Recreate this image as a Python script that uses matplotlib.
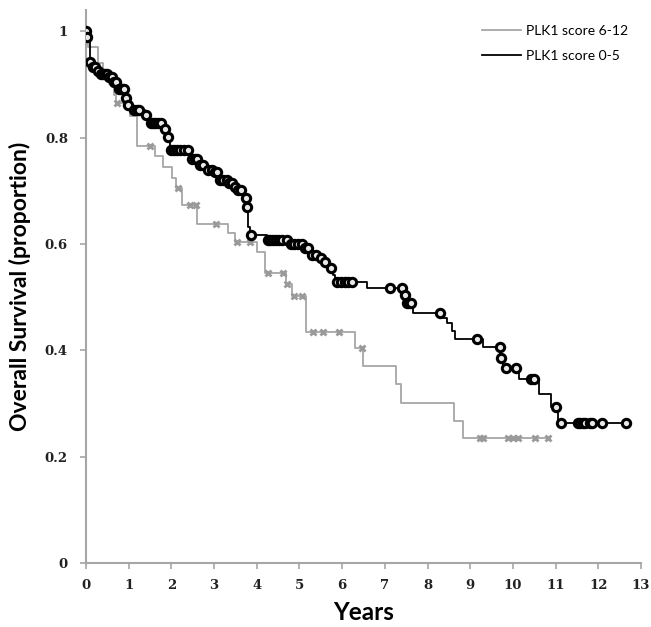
import numpy as np
import matplotlib.pyplot as plt

# PLK1 score 6-12 (grey): step times and survival after each step
hi_t = [0.0, 0.05, 0.28, 0.40, 0.55, 0.65, 0.70, 1.03, 1.19, 1.62, 1.80, 2.01, 2.10, 2.24, 2.60, 3.33, 3.49, 4.01, 4.19, 4.68, 4.83, 5.15, 6.30, 6.48, 7.26, 7.37, 8.62, 8.83]
hi_s = [1.0, 0.97, 0.94, 0.92, 0.90, 0.88, 0.865, 0.84, 0.785, 0.765, 0.745, 0.725, 0.705, 0.673, 0.637, 0.62, 0.603, 0.585, 0.545, 0.525, 0.503, 0.435, 0.405, 0.371, 0.337, 0.302, 0.268, 0.235]
hi_end = 10.83
hi_cens = [0.73, 1.50, 2.16, 2.44, 2.58, 3.05, 3.54, 3.84, 4.26, 4.62, 4.71, 4.88, 5.06, 5.32, 5.55, 5.93, 6.47, 9.23, 9.29, 9.89, 10.0, 10.12, 10.52, 10.83]

# PLK1 score 0-5 (black)
lo_t = [0.0, 0.02, 0.09, 0.16, 0.23, 0.33, 0.52, 0.63, 0.75, 0.91, 0.96, 1.10, 1.38, 1.50, 1.78, 1.90, 1.97, 2.44, 2.67, 2.79, 2.98, 3.14, 3.33, 3.44, 3.54, 3.72, 3.77, 3.80, 3.84, 4.24, 4.78, 5.08, 5.25, 5.44, 5.55, 5.67, 5.79, 5.83, 6.58, 7.48, 7.52, 7.66, 8.37, 8.45, 8.57, 8.65, 9.31, 9.70, 9.77, 10.14, 10.62, 10.89, 11.05]
lo_s = [1.0, 0.99, 0.942, 0.933, 0.925, 0.919, 0.914, 0.905, 0.891, 0.874, 0.861, 0.852, 0.842, 0.827, 0.817, 0.801, 0.776, 0.760, 0.748, 0.739, 0.736, 0.720, 0.714, 0.707, 0.701, 0.686, 0.670, 0.632, 0.617, 0.607, 0.601, 0.592, 0.579, 0.573, 0.566, 0.555, 0.542, 0.529, 0.517, 0.504, 0.489, 0.471, 0.461, 0.452, 0.437, 0.421, 0.407, 0.386, 0.368, 0.346, 0.319, 0.294, 0.264]
lo_end = 12.65
lo_cens = [0.0, 0.02, 0.09, 0.16, 0.20, 0.28, 0.35, 0.40, 0.45, 0.50, 0.55, 0.60, 0.65, 0.70, 0.78, 0.82, 0.86, 0.90, 0.93, 0.98, 1.12, 1.20, 1.25, 1.40, 1.52, 1.57, 1.62, 1.68, 1.75, 1.85, 1.92, 1.98, 2.05, 2.12, 2.20, 2.30, 2.40, 2.48, 2.55, 2.60, 2.68, 2.75, 2.85, 2.95, 3.02, 3.08, 3.15, 3.22, 3.30, 3.36, 3.42, 3.50, 3.56, 3.62, 3.74, 3.78, 3.86, 4.26, 4.32, 4.38, 4.44, 4.52, 4.60, 4.70, 4.80, 4.88, 4.96, 5.05, 5.12, 5.20, 5.30, 5.38, 5.50, 5.60, 5.75, 5.88, 5.98, 6.06, 6.14, 6.22, 7.13, 7.40, 7.48, 7.53, 7.57, 7.62, 8.30, 9.15, 9.69, 9.72, 9.85, 10.08, 10.43, 10.50, 11.00, 11.12, 11.52, 11.58, 11.64, 11.70, 11.80, 11.86, 12.08, 12.65]

xticks = list(range(0, 14))
yticks = [0, 0.2, 0.4, 0.6, 0.8, 1]
ytick_labels = ['0', '0.2', '0.4', '0.6', '0.8', '1']


def step_val(t, s, x):
    i = np.searchsorted(t, x, side='right') - 1
    return np.array(s)[i]


fig = plt.figure(figsize=(6.51, 6.27), dpi=100)
ax = fig.add_axes([0.1321, 0.1016, 0.8525, 0.8825])

grey = '#a6a6a6'
ax.step(hi_t + [hi_end], hi_s + [hi_s[-1]], where='post', color=grey, lw=1.3, label='PLK1 score 6-12', zorder=2)
ax.step(lo_t + [lo_end], lo_s + [lo_s[-1]], where='post', color='black', lw=1.3, label='PLK1 score 0-5', zorder=3)

ax.plot(hi_cens, step_val(hi_t, hi_s, hi_cens), ls='none', marker='x', ms=5, mew=2,
        color='#9a9a9a', zorder=2)
ax.plot(lo_cens, step_val(lo_t, lo_s, lo_cens), ls='none', marker='o', ms=6, mew=2.2,
        mfc='#e8e8e8', mec='black', zorder=4)

ax.set_xlim(0, 13)
ax.set_ylim(0, 1.04)
ax.set_xticks(xticks)
ax.set_yticks(yticks)
ax.set_yticklabels(ytick_labels)
for lab in ax.get_xticklabels() + ax.get_yticklabels():
    lab.set_fontfamily('DejaVu Serif')
    lab.set_fontweight('bold')
    lab.set_fontsize(9.5)
ax.tick_params(colors='#a6a6a6', labelcolor='#222222', length=4, width=1.2)
ax.tick_params(axis='y', pad=9)
ax.tick_params(axis='x', pad=7)

for side in ['top', 'right']:
    ax.spines[side].set_visible(False)
for side in ['left', 'bottom']:
    ax.spines[side].set_color('#a6a6a6')
    ax.spines[side].set_linewidth(1.5)

ax.set_ylabel('Overall Survival (proportion)', fontsize=16.5, fontweight='bold', family='Lato', labelpad=10)
ax.set_xlabel('Years', fontsize=17.5, fontweight='bold', family='Lato', labelpad=7)

leg = ax.legend(loc='upper right', bbox_to_anchor=(1.0, 0.995), frameon=False,
                prop={'family': 'Lato', 'size': 10}, handlelength=2.8, handletextpad=0.4, labelspacing=0.9)

fig.savefig('out.png', dpi=100)
